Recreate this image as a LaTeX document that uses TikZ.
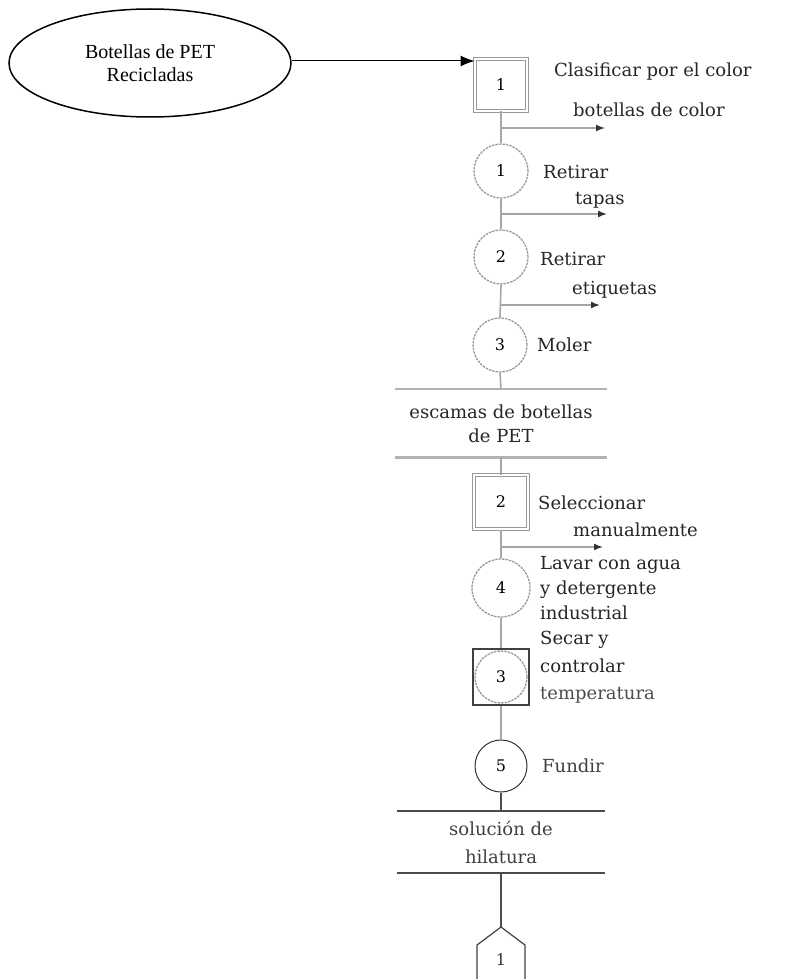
\documentclass[tikz,border=0pt]{standalone}
\usepackage{fontspec}
\setmainfont{DejaVu Serif}
\newfontfamily\timesf{Liberation Serif}
\usetikzlibrary{shapes.geometric,arrows.meta}
\begin{document}
\begin{tikzpicture}[x=1pt,y=-1pt,
  conn/.style={draw=gray!70,line width=1.6pt},
  flow/.style={draw=gray!70,line width=1.6pt,-{Latex[length=9pt,width=7pt,color=black!80]}},
  opcircle/.style={circle,draw=gray!80,line width=1.3pt,dash pattern=on 2.5pt off 1pt,minimum size=54pt,inner sep=0pt,font=\fontsize{16}{18}\selectfont},
  inspbox/.style={rectangle,draw=gray!80,double=white,double distance=2pt,line width=1pt,minimum size=52pt,inner sep=0pt,font=\fontsize{16}{18}\selectfont},
  lbl/.style={anchor=west,inner sep=0pt,text=black!85,font=\fontsize{18}{20}\selectfont},
  store/.style={align=center,inner sep=0pt,text=black!85,font=\fontsize{18}{24}\selectfont},
  storeline/.style={draw=gray!60,line width=2pt}
]
\useasboundingbox (0,0) rectangle (791,979);

% source ellipse
\node[ellipse,draw=black,line width=1.5pt,minimum width=282pt,minimum height=108pt,align=center,
      font=\timesf\fontsize{20}{23}\selectfont] (src) at (150,63) {Botellas de PET\\Recicladas};

% inspection box 1
\node[inspbox] (box1) at (501,85) {1};
\draw[-{Latex[length=14pt,width=11pt]},line width=1pt] (src.east |- 0,61) coordinate (srcout) -- (box1.west |- srcout);
\node[lbl] (t1) at (554,72) {Clasificar por el color};

% operation circles
\node[opcircle] (c1) at (501,171) {1};
\node[opcircle] (c2) at (501,257) {2};
\node[opcircle] (c3) at (500,345) {3};
\node[inspbox,minimum size=54pt] (box2) at (501,502) {2};
\node[opcircle,minimum size=58pt] (c4) at (501,588) {4};
\node[rectangle,draw=black!75,line width=1.5pt,minimum size=56pt] (comb) at (501,677) {};
\node[circle,draw=gray!80,line width=1.3pt,dash pattern=on 2.5pt off 1pt,minimum size=52pt,inner sep=0pt,font=\fontsize{16}{18}\selectfont] (combc) at (comb.center) {3};
\node[circle,draw=black!80,line width=1pt,minimum size=52pt,inner sep=0pt,font=\fontsize{16}{18}\selectfont] (c5) at (501,766) {5};

% branch coordinates
\coordinate (b1) at (501,128); \coordinate (e1) at (605,128);
\coordinate (b2) at (501,214); \coordinate (e2) at (607,214);
\coordinate (b3) at (501,305); \coordinate (e3) at (600,305);
\coordinate (b4) at (501,547); \coordinate (e4) at (603,547);

% storage 1
\coordinate (s1l) at (395,389); \coordinate (s1r) at (607,389);
\coordinate (s2l) at (395,457); \coordinate (s2r) at (607,457);
\draw[storeline] (s1l) -- (s1r);
\draw[storeline,line width=3pt] (s2l) -- (s2r);
\node[store] (st1) at (501,424) {escamas de botellas\\de PET};
\coordinate (s1m) at (501,389); \coordinate (s2m) at (501,457);

% storage 2
\coordinate (s3l) at (397,811); \coordinate (s3r) at (605,811);
\coordinate (s4l) at (397,873); \coordinate (s4r) at (605,873);
\draw[storeline,draw=black!70,line width=1.5pt] (s3l) -- (s3r);
\draw[storeline,draw=black!70,line width=1.5pt] (s4l) -- (s4r);
\node[store,text=black!75,font=\fontsize{18}{28}\selectfont] (st2) at (501,842) {solución de\\hilatura};
\coordinate (s3m) at (501,811); \coordinate (s4m) at (501,873);

% connector (off-page)
\coordinate (pk) at (501,927);
\draw[black!75,line width=1.2pt] (pk) -- (525,945) -- (525,995) -- (477,995) -- (477,945) -- cycle;
\node[font=\fontsize{16}{18}\selectfont,text=black!80] (pn) at (501,960) {1};

% vertical flow
\draw[conn] (box1.south) -- (c1.north);
\draw[conn] (c1.south) -- (c2.north);
\draw[conn] (c2.south) -- (c3.north);
\draw[conn] (c3.south) -- (s1m);
\draw[conn] (s2m) -- (box2.north);
\draw[conn] (box2.south) -- (c4.north);
\draw[conn] (c4.south) -- (comb.north);
\draw[conn] (comb.south) -- (c5.north);
\draw[conn,draw=black!70,line width=1.2pt] (c5.south) -- (s3m);
\draw[conn,draw=black!70,line width=1.2pt] (s4m) -- (pk);

% branch arrows
\draw[flow] (b1) -- (e1);
\draw[flow] (b2) -- (e2);
\draw[flow] (b3) -- (e3);
\draw[flow] (b4) -- (e4);

% labels
\node[lbl] (l1) at (573,110) {botellas de color};
\node[lbl] (l2) at (543,172) {Retirar};
\node[lbl] (l3) at (575,200) {tapas};
\node[lbl] (l4) at (540,259) {Retirar};
\node[lbl] (l5) at (572,290) {etiquetas};
\node[lbl] (l6) at (537,345) {Moler};
\node[lbl] (l7) at (538,503) {Seleccionar};
\node[lbl] (l8) at (573,530) {manualmente};
\node[lbl] (l9) at (540,565) {Lavar con agua};
\node[lbl] (l10) at (540,590) {y detergente};
\node[lbl] (l11) at (540,613) {industrial};
\node[lbl] (l12) at (540,640) {Secar y};
\node[lbl] (l13) at (540,666) {controlar};
\node[lbl,text=black!70] (l14) at (540,695) {temperatura};
\node[lbl,text=black!75] (l15) at (542,766) {Fundir};
\end{tikzpicture}
\end{document}
